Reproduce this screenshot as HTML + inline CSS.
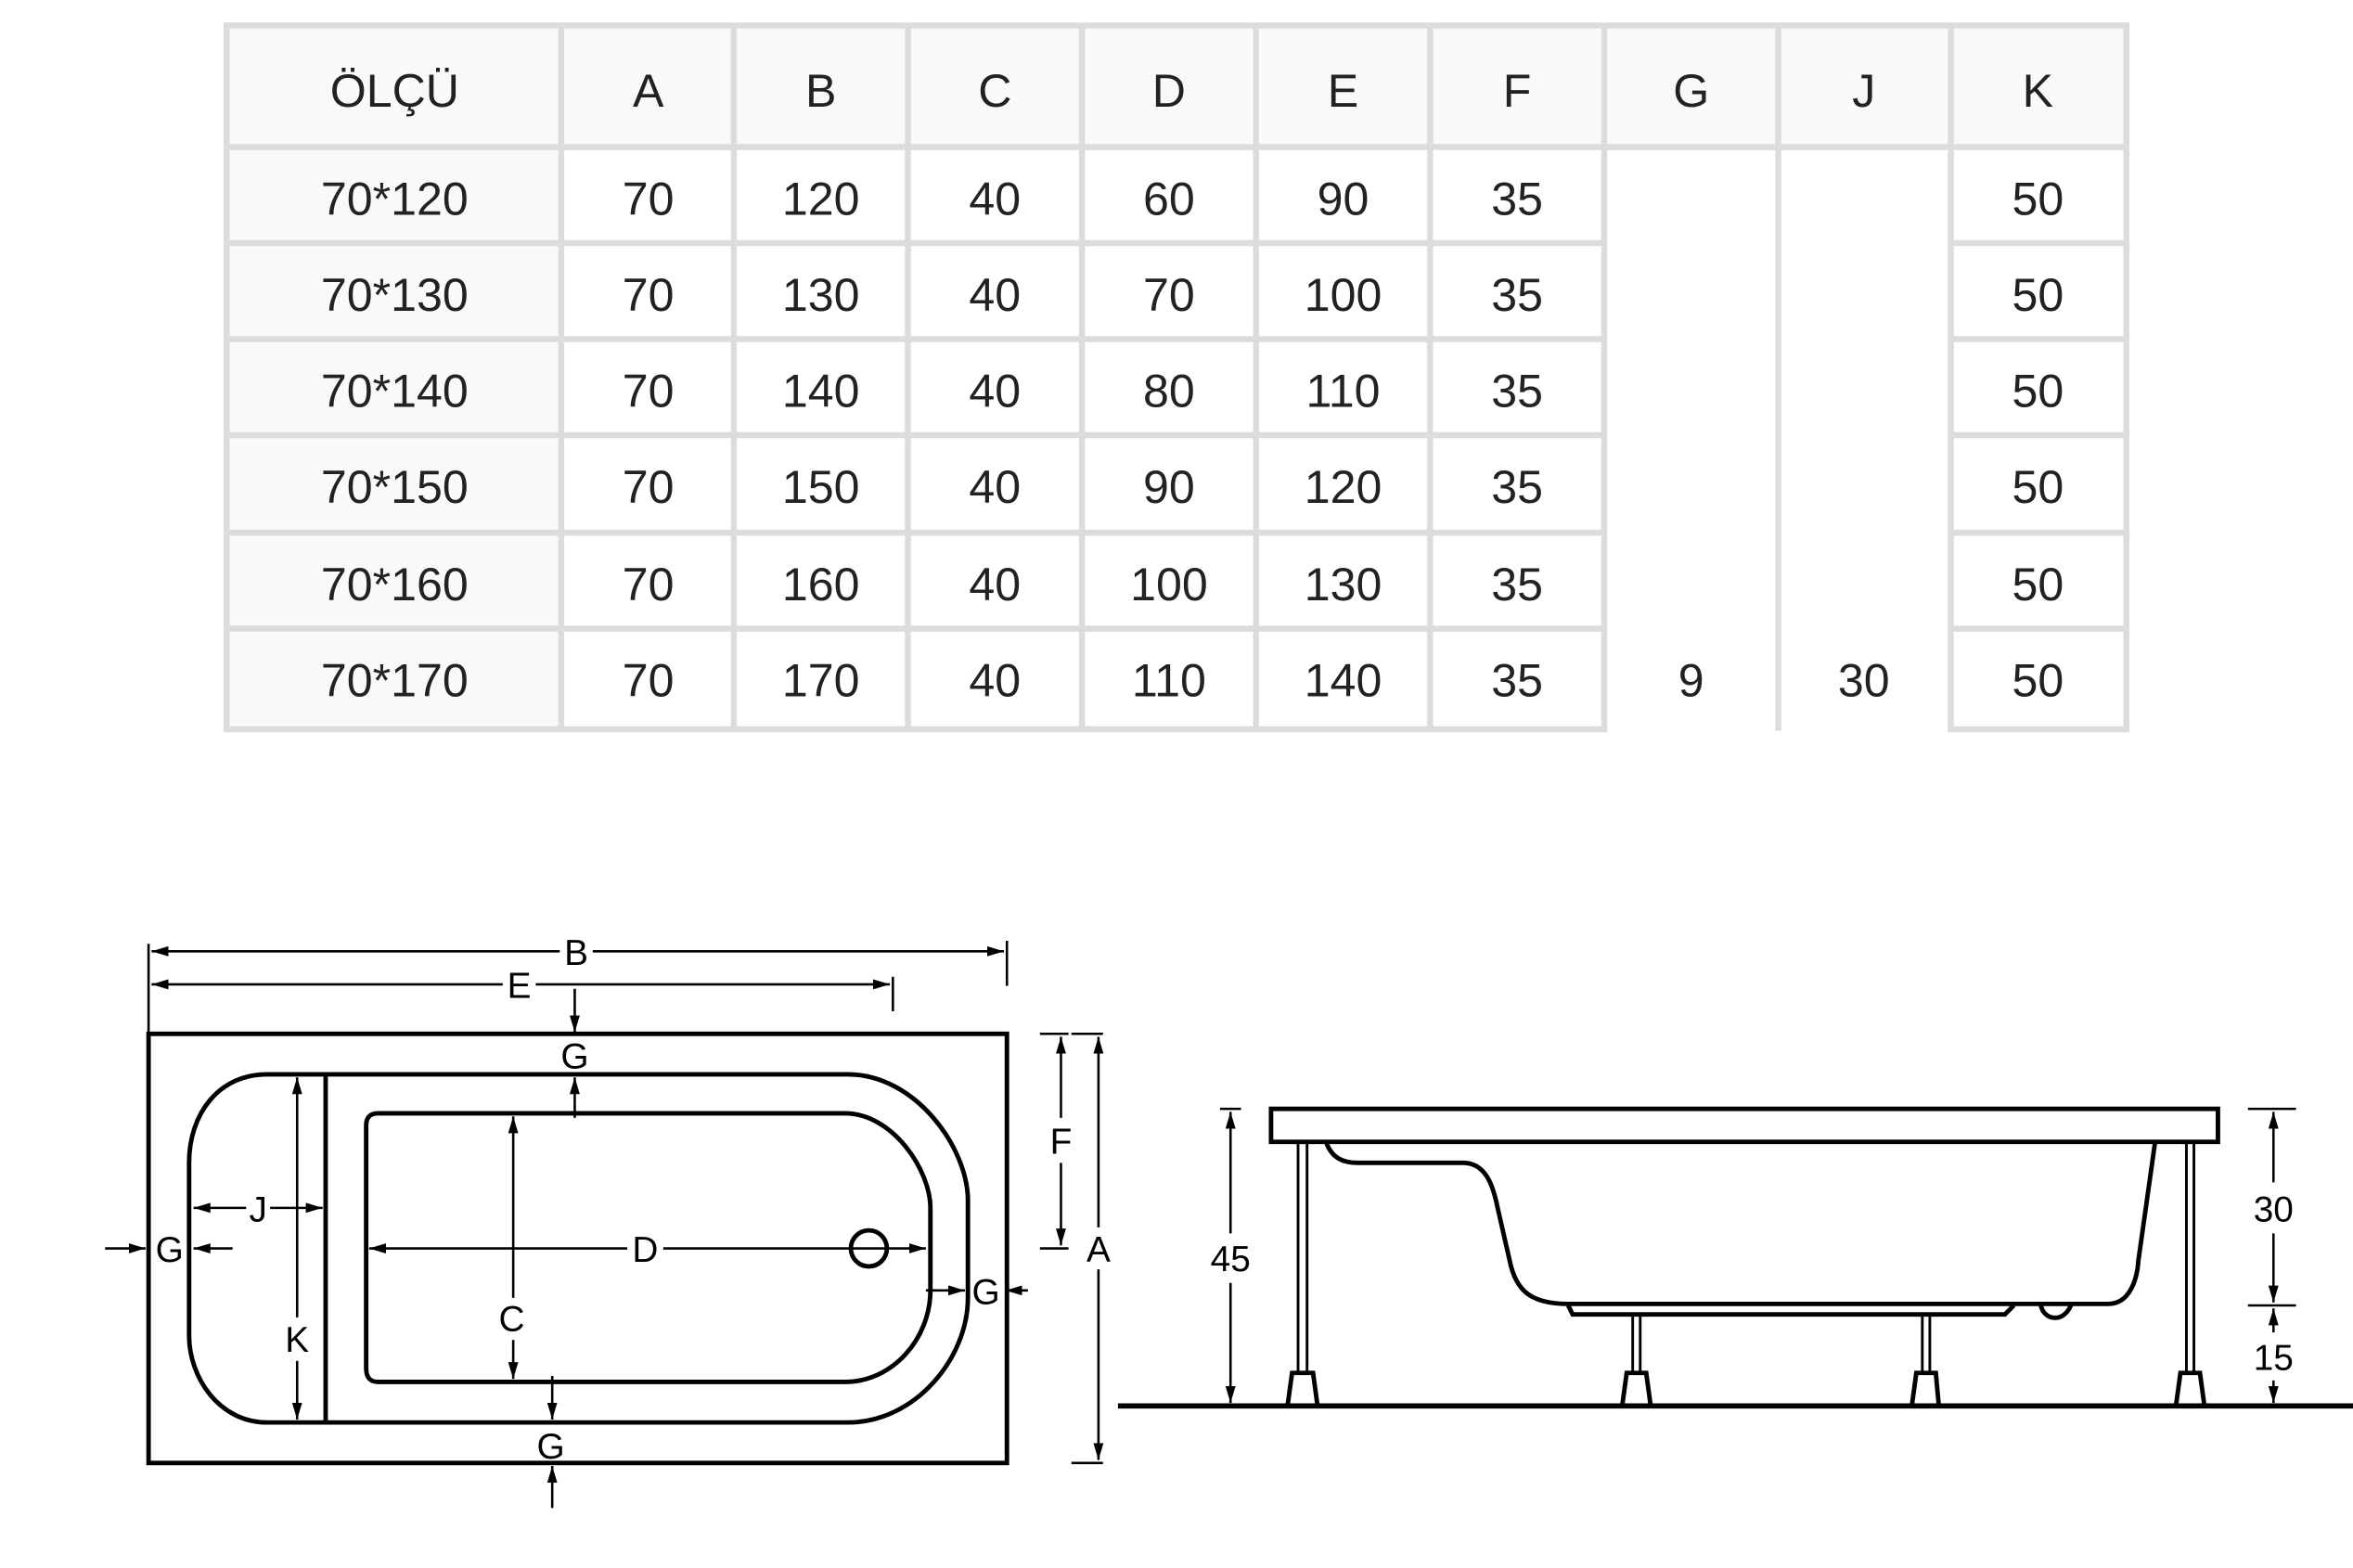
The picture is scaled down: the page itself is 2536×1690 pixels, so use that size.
<!DOCTYPE html>
<html><head><meta charset="utf-8"><style>
html,body{margin:0;padding:0;background:#fff;}
svg{display:block;}
.t{font-family:"Liberation Sans",sans-serif;font-size:31px;fill:#222;text-anchor:middle;}
.l{font-family:"Liberation Sans",sans-serif;font-size:24px;fill:#000;text-anchor:middle;}
.k{stroke:#000;fill:none;stroke-width:3;}
.d{stroke:#000;fill:none;stroke-width:1.6;}
</style></head><body>
<svg width="2536" height="1690" viewBox="0 0 1568 1045" preserveAspectRatio="none" xmlns="http://www.w3.org/2000/svg">
<defs><marker id="a" viewBox="0 0 10 10" refX="10" refY="5" markerWidth="7" markerHeight="7" orient="auto-start-reverse"><path d="M0,2 L10,5 L0,8 Z" fill="#000"/></marker></defs>
<!-- table -->
<rect x="151" y="17" width="1266" height="81" fill="#f9f9f9"/>
<rect x="151" y="98" width="223" height="389" fill="#f9f9f9"/>
<g stroke="#dcdcdd" stroke-width="4" fill="none">
<line x1="151" y1="17" x2="1417" y2="17"/>
<line x1="151" y1="98" x2="1417" y2="98"/>
<line x1="151" y1="15" x2="151" y2="487"/>
<line x1="1417" y1="15" x2="1417" y2="487"/>
<line x1="149" y1="486" x2="1071" y2="486"/>
<line x1="1298" y1="486" x2="1419" y2="486"/>
<line x1="374" y1="17" x2="374" y2="487"/>
<line x1="489" y1="17" x2="489" y2="487"/>
<line x1="605" y1="17" x2="605" y2="487"/>
<line x1="721" y1="17" x2="721" y2="487"/>
<line x1="837" y1="17" x2="837" y2="487"/>
<line x1="953" y1="17" x2="953" y2="487"/>
<line x1="1069" y1="17" x2="1069" y2="487"/>
<line x1="1185" y1="17" x2="1185" y2="487"/>
<line x1="1300" y1="17" x2="1300" y2="487"/>
<line x1="151" y1="162" x2="1069" y2="162"/><line x1="1300" y1="162" x2="1417" y2="162"/>
<line x1="151" y1="226" x2="1069" y2="226"/><line x1="1300" y1="226" x2="1417" y2="226"/>
<line x1="151" y1="290" x2="1069" y2="290"/><line x1="1300" y1="290" x2="1417" y2="290"/>
<line x1="151" y1="355" x2="1069" y2="355"/><line x1="1300" y1="355" x2="1417" y2="355"/>
<line x1="151" y1="419" x2="1069" y2="419"/><line x1="1300" y1="419" x2="1417" y2="419"/>
</g>
<g class="t">
<text x="263" y="71">ÖLÇÜ</text><text x="432" y="71">A</text><text x="547" y="71">B</text><text x="663" y="71">C</text><text x="779" y="71">D</text><text x="895" y="71">E</text><text x="1011" y="71">F</text><text x="1127" y="71">G</text><text x="1242" y="71">J</text><text x="1358" y="71">K</text>
<text x="263" y="143">70*120</text><text x="432" y="143">70</text><text x="547" y="143">120</text><text x="663" y="143">40</text><text x="779" y="143">60</text><text x="895" y="143">90</text><text x="1011" y="143">35</text><text x="1358" y="143">50</text>
<text x="263" y="207">70*130</text><text x="432" y="207">70</text><text x="547" y="207">130</text><text x="663" y="207">40</text><text x="779" y="207">70</text><text x="895" y="207">100</text><text x="1011" y="207">35</text><text x="1358" y="207">50</text>
<text x="263" y="271">70*140</text><text x="432" y="271">70</text><text x="547" y="271">140</text><text x="663" y="271">40</text><text x="779" y="271">80</text><text x="895" y="271">110</text><text x="1011" y="271">35</text><text x="1358" y="271">50</text>
<text x="263" y="335">70*150</text><text x="432" y="335">70</text><text x="547" y="335">150</text><text x="663" y="335">40</text><text x="779" y="335">90</text><text x="895" y="335">120</text><text x="1011" y="335">35</text><text x="1358" y="335">50</text>
<text x="263" y="400">70*160</text><text x="432" y="400">70</text><text x="547" y="400">160</text><text x="663" y="400">40</text><text x="779" y="400">100</text><text x="895" y="400">130</text><text x="1011" y="400">35</text><text x="1358" y="400">50</text>
<text x="263" y="464">70*170</text><text x="432" y="464">70</text><text x="547" y="464">170</text><text x="663" y="464">40</text><text x="779" y="464">110</text><text x="895" y="464">140</text><text x="1011" y="464">35</text><text x="1127" y="464">9</text><text x="1242" y="464">30</text><text x="1358" y="464">50</text>
</g>
<!-- plan view -->
<rect class="k" x="99" y="689" width="572" height="286"/>
<path class="k" d="M178,716 H565 C610,716 645,765 645,800 V865 C645,905 610,948 565,948 H178 C146,948 126,918 126,890 V775 C126,742 146,716 178,716 Z"/>
<line class="k" x1="217" y1="716" x2="217" y2="948"/>
<path class="k" d="M252,742 H563 C595,742 620,780 620,805 V860 C620,892 595,921 563,921 H252 Q244,921 244,912 V750 Q244,742 252,742 Z"/>
<circle class="k" cx="579" cy="832" r="12"/>
<g class="d">
<line x1="99" y1="629" x2="99" y2="705"/><line x1="671" y1="627" x2="671" y2="657"/><line x1="595" y1="651" x2="595" y2="674"/>
<line x1="373" y1="634" x2="101" y2="634" marker-end="url(#a)"/><line x1="395" y1="634" x2="669" y2="634" marker-end="url(#a)"/>
<line x1="335" y1="656" x2="101" y2="656" marker-end="url(#a)"/><line x1="357" y1="656" x2="593" y2="656" marker-end="url(#a)"/>
<line x1="383" y1="659" x2="383" y2="688" marker-end="url(#a)"/><line x1="383" y1="745" x2="383" y2="718" marker-end="url(#a)"/>
<line x1="342" y1="865" x2="342" y2="744" marker-end="url(#a)"/><line x1="342" y1="893" x2="342" y2="919" marker-end="url(#a)"/>
<line x1="418" y1="832" x2="246" y2="832" marker-end="url(#a)"/><line x1="442" y1="832" x2="617" y2="832" marker-end="url(#a)"/>
<line x1="198" y1="878" x2="198" y2="718" marker-end="url(#a)"/><line x1="198" y1="907" x2="198" y2="946" marker-end="url(#a)"/>
<line x1="164" y1="805" x2="129" y2="805" marker-end="url(#a)"/><line x1="180" y1="805" x2="215" y2="805" marker-end="url(#a)"/>
<line x1="70" y1="832" x2="97" y2="832" marker-end="url(#a)"/><line x1="155" y1="832" x2="129" y2="832" marker-end="url(#a)"/>
<line x1="617" y1="860" x2="643" y2="860" marker-end="url(#a)"/><line x1="685" y1="860" x2="670" y2="860" marker-end="url(#a)"/>
<line x1="368" y1="917" x2="368" y2="946" marker-end="url(#a)"/><line x1="368" y1="1005" x2="368" y2="977" marker-end="url(#a)"/>
<line x1="693" y1="689" x2="712" y2="689"/><line x1="714" y1="689" x2="735" y2="689"/><line x1="693" y1="832" x2="712" y2="832"/><line x1="714" y1="975" x2="735" y2="975"/>
<line x1="707" y1="745" x2="707" y2="691" marker-end="url(#a)"/><line x1="707" y1="775" x2="707" y2="830" marker-end="url(#a)"/>
<line x1="732" y1="818" x2="732" y2="691" marker-end="url(#a)"/><line x1="732" y1="846" x2="732" y2="973" marker-end="url(#a)"/>
</g>
<g class="l">
<text x="384" y="643">B</text><text x="346" y="665">E</text><text x="383" y="712">G</text><text x="341" y="887">C</text><text x="430" y="841">D</text><text x="198" y="901">K</text><text x="172" y="814">J</text><text x="113" y="841">G</text><text x="657" y="869">G</text><text x="367" y="972">G</text><text x="707" y="769">F</text><text x="732" y="841">A</text>
</g>
<!-- side view -->
<rect class="k" x="847" y="739" width="631" height="22"/>
<line x1="745" y1="937" x2="1568" y2="937" stroke="#000" stroke-width="3.5"/>
<path class="k" d="M884,762 C888,772 895,775 905,775 H975 C990,775 995,790 998,805 L1006,840 C1010,860 1020,869 1045,869 H1405 C1418,869 1424,855 1425,840 L1436,762"/>
<path class="k" stroke-width="2.5" d="M1045,870 L1048,876 H1336 L1342,870 M1360,870 C1362,880 1375,882 1380,870"/>
<g stroke="#000" stroke-width="1.8">
<line x1="865" y1="762" x2="865" y2="915"/><line x1="871" y1="762" x2="871" y2="915"/>
<line x1="1088" y1="877" x2="1088" y2="915"/><line x1="1093" y1="877" x2="1093" y2="915"/>
<line x1="1281" y1="877" x2="1281" y2="915"/><line x1="1286" y1="877" x2="1286" y2="915"/>
<line x1="1457" y1="762" x2="1457" y2="915"/><line x1="1462" y1="762" x2="1462" y2="915"/>
</g>
<g class="k" stroke-width="2.5">
<path d="M861,915 H875 L878,937 H858 Z"/><path d="M1084,915 H1097 L1100,937 H1081 Z"/><path d="M1277,915 H1290 L1292,937 H1274 Z"/><path d="M1453,915 H1466 L1469,937 H1450 Z"/>
</g>
<g class="d">
<line x1="813" y1="739" x2="827" y2="739"/>
<line x1="820" y1="822" x2="820" y2="741" marker-end="url(#a)"/><line x1="820" y1="855" x2="820" y2="935" marker-end="url(#a)"/>
<line x1="1498" y1="739" x2="1530" y2="739"/><line x1="1498" y1="870" x2="1530" y2="870"/>
<line x1="1515" y1="788" x2="1515" y2="741" marker-end="url(#a)"/><line x1="1515" y1="822" x2="1515" y2="868" marker-end="url(#a)"/>
<line x1="1515" y1="888" x2="1515" y2="872" marker-end="url(#a)"/><line x1="1515" y1="920" x2="1515" y2="935" marker-end="url(#a)"/>
</g>
<g class="l"><text x="820" y="847">45</text><text x="1515" y="814">30</text><text x="1515" y="913">15</text></g>
</svg>
</body></html>
